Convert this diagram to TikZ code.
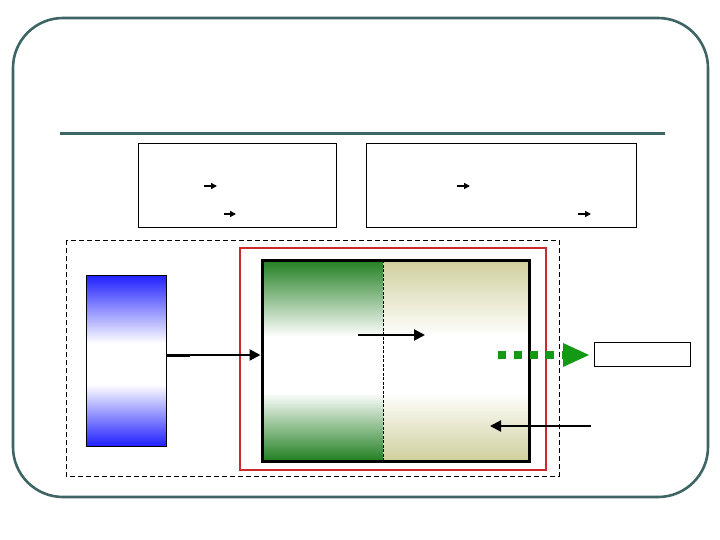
\documentclass[tikz,border=0pt]{standalone}
\usetikzlibrary{arrows.meta}
\definecolor{frame}{HTML}{3F6464}
\definecolor{redline}{HTML}{CC2A2A}
\definecolor{dgreen}{HTML}{217F21}
\definecolor{khaki}{HTML}{CFCF9C}
\definecolor{bblue}{HTML}{2020FF}
\definecolor{arrgreen}{HTML}{139913}
\pgfdeclareverticalshading{gsh}{100bp}{color(0bp)=(dgreen); color(25bp)=(dgreen); color(42bp)=(white); color(56bp)=(white); color(75bp)=(dgreen); color(100bp)=(dgreen)}
\pgfdeclareverticalshading{ksh}{100bp}{color(0bp)=(khaki); color(25bp)=(khaki); color(42bp)=(white); color(56bp)=(white); color(75bp)=(khaki); color(100bp)=(khaki)}
\pgfdeclareverticalshading{bsh}{100bp}{color(0bp)=(bblue); color(25bp)=(bblue); color(43bp)=(white); color(55bp)=(white); color(75bp)=(bblue); color(100bp)=(bblue)}
\tikzset{
  thinbox/.style={draw=black, line width=0.8pt},
  arr/.style={line width=2.2pt, -{Triangle[length=11pt,width=11pt]}},
  smallarr/.style={line width=1.3pt, -{Triangle[length=6pt,width=6pt]}},
}
\begin{document}
\begin{tikzpicture}[x=1pt,y=-1pt]
\useasboundingbox (0,0) rectangle (720,540);
% outer rounded frame
\draw[frame, line width=2.6pt, rounded corners=50pt] (13,18) rectangle (708,497);
\draw[frame, line width=3pt] (60,134) -- (665,134);
% top boxes
\node[thinbox, minimum width=198pt, minimum height=84pt, inner sep=0pt] (b1) at (237,185) {};
\node[thinbox, minimum width=270pt, minimum height=84pt, inner sep=0pt] (b2) at (501,185) {};
\coordinate (a1s) at (204,186); \coordinate (a1e) at (217,186);
\coordinate (a2s) at (224,214); \coordinate (a2e) at (236,214);
\coordinate (a3s) at (457,186); \coordinate (a3e) at (470,186);
\coordinate (a4s) at (578,214); \coordinate (a4e) at (591,214);
\draw[smallarr] (a1s) -- (a1e);
\draw[smallarr] (a2s) -- (a2e);
\draw[smallarr] (a3s) -- (a3e);
\draw[smallarr] (a4s) -- (a4e);
% dashed outer
\draw[line width=0.8pt, dash pattern=on 5pt off 3pt] (66,240) rectangle (559,476);
% red
\draw[redline, line width=1.5pt] (240,248) rectangle (546,470);
% main box shading
\shade[shading=gsh] (262,260) rectangle (383,461);
\shade[shading=ksh] (383,260) rectangle (529,461);
\draw[line width=0.6pt, dash pattern=on 3pt off 1.5pt] (383,260) -- (383,461);
\node[draw=black, line width=3pt, minimum width=267pt, minimum height=201pt, inner sep=0pt] (main) at (395.5,360.5) {};
% blue
\shade[shading=bsh] (86,275) rectangle (166,446);
\node[draw=black, line width=0.8pt, minimum width=80pt, minimum height=171pt, inner sep=0pt] (blue) at (126,360.5) {};
% arrows
\coordinate (bs) at (166,355);
\draw[arr] (bs) -- (main.west |- bs);
\draw[line width=3pt] (bs) -- (190,355);
\coordinate (is) at (358,335); \coordinate (ie) at (425,335);
\draw[arr] (is) -- (ie);
% output box
\node[thinbox, minimum width=96pt, minimum height=24pt, inner sep=0pt] (out) at (642,354) {};
% green dotted arrow
\coordinate (gs) at (498,355); \coordinate (ge) at (589,355);
\draw[arrgreen, line width=8pt, dash pattern=on 8pt off 8pt] (gs) -- (563,355);
\fill[arrgreen] (563,343) -- (589,355) -- (563,367) -- cycle;
% returning arrow
\coordinate (rs) at (591,426); \coordinate (re) at (490,426);
\draw[arr] (rs) -- (re);
\end{tikzpicture}
\end{document}
